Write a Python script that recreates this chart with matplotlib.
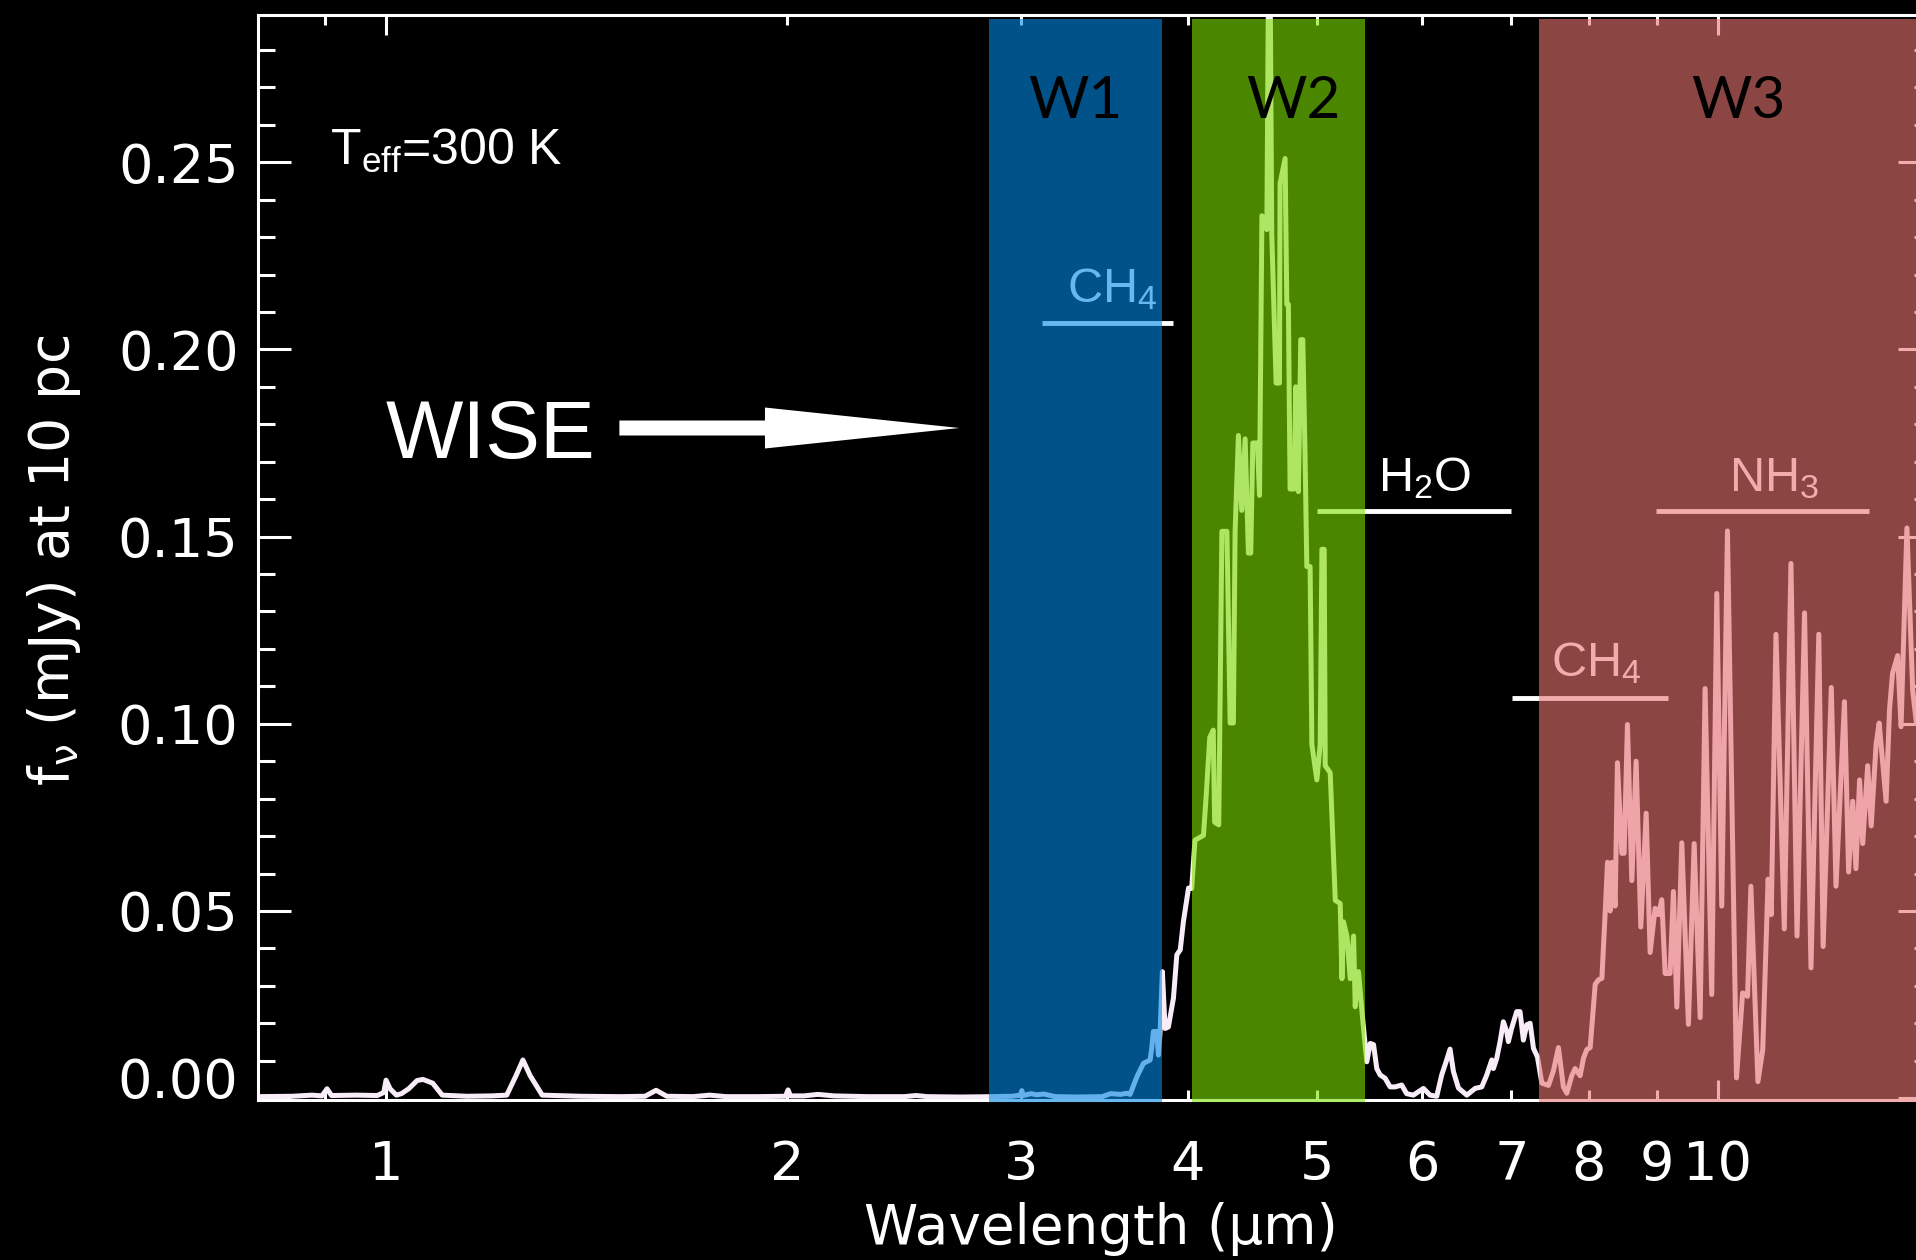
import numpy as np
import matplotlib
matplotlib.use('Agg')
import matplotlib.pyplot as plt
from matplotlib.ticker import MultipleLocator

plt.rcParams['font.family'] = 'DejaVu Sans'
plt.rcParams['mathtext.default'] = 'regular'

# model spectrum, Teff = 300 K
wave_um = [0.80, 0.85, 0.88, 0.895, 0.903, 0.91, 0.95, 0.985, 0.996, 1.0,
           1.007, 1.018, 1.027, 1.040, 1.055, 1.066, 1.084, 1.102, 1.15, 1.20,
           1.232, 1.252, 1.267, 1.283, 1.31, 1.40, 1.50, 1.565, 1.595, 1.625,
           1.70, 1.75, 1.80, 1.90, 1.995, 2.004, 2.012, 2.06, 2.11, 2.17,
           2.30, 2.45, 2.50, 2.55, 2.70, 2.85, 2.95, 2.995, 3.002, 3.01,
           3.05, 3.08, 3.12, 3.18, 3.30, 3.45, 3.50, 3.56, 3.60, 3.62,
           3.663, 3.705, 3.748, 3.758, 3.769, 3.79, 3.802, 3.813, 3.828, 3.846,
           3.868, 3.902, 3.925, 3.948, 3.970, 4.005, 4.027, 4.05, 4.11, 4.13,
           4.155, 4.18, 4.19, 4.22, 4.243, 4.280, 4.304, 4.328, 4.341, 4.366,
           4.391, 4.417, 4.442, 4.46, 4.476, 4.512, 4.528, 4.547, 4.586, 4.599,
           4.612, 4.625, 4.660, 4.687, 4.692, 4.733, 4.747, 4.760, 4.774, 4.807,
           4.821, 4.843, 4.863, 4.880, 4.899, 4.914, 4.942, 4.957, 5.000, 5.029,
           5.044, 5.064, 5.073, 5.117, 5.132, 5.162, 5.206, 5.222, 5.236, 5.267,
           5.297, 5.328, 5.343, 5.373, 5.414, 5.451, 5.483, 5.515, 5.546, 5.578,
           5.627, 5.675, 5.724, 5.790, 5.840, 5.908, 6.012, 6.081, 6.152, 6.205,
           6.252, 6.295, 6.332, 6.387, 6.480, 6.574, 6.650, 6.708, 6.766, 6.785,
           6.824, 6.864, 6.903, 6.943, 6.963, 7.003, 7.064, 7.105, 7.146, 7.188,
           7.230, 7.272, 7.322, 7.378, 7.463, 7.527, 7.593, 7.658, 7.703, 7.770,
           7.815, 7.883, 7.929, 7.975, 8.021, 8.091, 8.137, 8.185, 8.233, 8.265,
           8.303, 8.328, 8.375, 8.408, 8.472, 8.506, 8.555, 8.620, 8.684, 8.755,
           8.836, 8.897, 8.974, 9.026, 9.078, 9.131, 9.210, 9.263, 9.317, 9.398,
           9.506, 9.601, 9.701, 9.784, 9.897, 9.984, 10.07, 10.17, 10.33, 10.44,
           10.53, 10.59, 10.72, 10.81, 10.91, 10.97, 11.06, 11.22, 11.35, 11.47,
           11.62, 11.75, 11.91, 12.00, 12.17, 12.27, 12.45, 12.54, 12.63, 12.70,
           12.78, 12.85, 12.96, 13.04, 13.15, 13.22, 13.38, 13.46, 13.53, 13.65,
           13.73, 13.87, 14.01, 14.10]
flux_mjy = [0.0004, 0.0005, 0.0008, 0.0006, 0.0025, 0.0007, 0.0008, 0.0007, 0.0015, 0.0048,
            0.0025, 0.0008, 0.0012, 0.0025, 0.0047, 0.0050, 0.0040, 0.0008, 0.0005, 0.0006,
            0.0008, 0.0060, 0.0102, 0.0060, 0.0008, 0.0005, 0.0004, 0.0005, 0.0021, 0.0005,
            0.0004, 0.0008, 0.0004, 0.0004, 0.0005, 0.0022, 0.0006, 0.0006, 0.0010, 0.0006,
            0.0004, 0.0004, 0.0007, 0.0004, 0.0003, 0.0004, 0.0005, 0.0008, 0.0020, 0.0007,
            0.0012, 0.0009, 0.0011, 0.0004, 0.0003, 0.0004, 0.0012, 0.0010, 0.0013, 0.0010,
            0.0057, 0.0093, 0.0102, 0.0133, 0.0178, 0.0178, 0.0115, 0.0178, 0.0338, 0.0186,
            0.0190, 0.0267, 0.0383, 0.0396, 0.0472, 0.0561, 0.0560, 0.0689, 0.0702, 0.0812,
            0.0964, 0.0983, 0.0737, 0.0730, 0.1514, 0.1514, 0.1002, 0.1002, 0.1514, 0.1770,
            0.1570, 0.1761, 0.1456, 0.1456, 0.1750, 0.1750, 0.1610, 0.2357, 0.2320, 0.3000,
            0.3000, 0.2310, 0.1910, 0.1910, 0.2443, 0.2510, 0.2120, 0.2120, 0.1627, 0.1627,
            0.1900, 0.1620, 0.2026, 0.2026, 0.1720, 0.1420, 0.1420, 0.0945, 0.0850, 0.0945,
            0.1466, 0.1466, 0.0888, 0.0869, 0.0756, 0.0528, 0.0520, 0.0319, 0.0471, 0.0433,
            0.0319, 0.0433, 0.0244, 0.0338, 0.0206, 0.0097, 0.0146, 0.0143, 0.0079, 0.0062,
            0.0053, 0.0030, 0.0030, 0.0035, 0.0012, 0.0008, 0.0026, 0.0008, 0.0005, 0.0062,
            0.0097, 0.0131, 0.0071, 0.0027, 0.0008, 0.0026, 0.0030, 0.0062, 0.0102, 0.0079,
            0.0106, 0.0151, 0.0204, 0.0178, 0.0151, 0.0187, 0.0231, 0.0231, 0.0155, 0.0196,
            0.0200, 0.0133, 0.0110, 0.0040, 0.0034, 0.0073, 0.0135, 0.0030, 0.0013, 0.0060,
            0.0079, 0.0060, 0.0107, 0.0130, 0.0135, 0.0304, 0.0316, 0.0320, 0.0500, 0.0630,
            0.0500, 0.0630, 0.0513, 0.0896, 0.0654, 0.0654, 0.0998, 0.0581, 0.0900, 0.0457,
            0.0761, 0.0389, 0.0507, 0.0490, 0.0530, 0.0333, 0.0333, 0.0552, 0.0243, 0.0682,
            0.0197, 0.0680, 0.0215, 0.1094, 0.0277, 0.1348, 0.0513, 0.1515, 0.0054, 0.0281,
            0.0272, 0.0566, 0.0044, 0.0130, 0.0585, 0.0490, 0.1239, 0.0452, 0.1428, 0.0433,
            0.1296, 0.0348, 0.1239, 0.0405, 0.1097, 0.0566, 0.1059, 0.0604, 0.0793, 0.0613,
            0.0850, 0.0680, 0.0888, 0.0727, 0.0945, 0.1002, 0.0793, 0.1040, 0.1135, 0.1182,
            0.0992, 0.1523, 0.1088, 0.1002]

# WISE bands
band_names = ['W1', 'W2', 'W3']
band_lo = [2.835, 4.027, 7.336]
band_hi = [3.826, 5.434, 14.46]
band_colors = ['#0089e6', '#7de100', '#e97573']
band_label_x = [3.29, 4.80, 10.36]

# absorption features
mol_names = ['CH$_4$', 'H$_2$O', 'CH$_4$', 'NH$_3$']
mol_lo = [3.111, 5.00, 7.01, 8.99]
mol_hi = [3.90, 7.00, 9.18, 12.98]
mol_y = [0.2070, 0.1569, 0.1069, 0.1569]
mol_text_x = [3.246, 5.56, 7.50, 10.2]
mol_text_y = [0.2127, 0.1621, 0.1126, 0.1621]

x_major = [1, 10]
x_minor = [0.9, 2, 3, 4, 5, 6, 7, 8, 9]
y_ticks = [0.00, 0.05, 0.10, 0.15, 0.20, 0.25]

fig = plt.figure(figsize=(19.16, 12.6), dpi=100, facecolor='black')
ax = fig.add_axes([0.13466, 0.12698, 0.87317, 0.86135])
ax.set_facecolor('black')
ax.set_xscale('log')
ax.set_xlim(0.8014, 14.46)
ax.set_ylim(-0.0005, 0.2894)

ax.plot(wave_um, flux_mjy, color='#f8ecf8', lw=3.6, zorder=2)

for name, lo, hi, y, tx, ty in zip(mol_names, mol_lo, mol_hi, mol_y, mol_text_x, mol_text_y):
    ax.plot([lo, hi], [y, y], color='white', lw=3.5, solid_capstyle='butt', zorder=2)
    ax.text(tx, ty, name, color='white', fontsize=35, family='Liberation Sans',
            ha='left', va='baseline', zorder=2)

# translucent bands on top of everything white, so the line takes their tint
for lo, hi, c in zip(band_lo, band_hi, band_colors):
    ax.axvspan(lo, hi, ymin=-0.0016, ymax=0.996, color=c, alpha=0.6, lw=0,
               zorder=3, clip_on=False)

for name, x in zip(band_names, band_label_x):
    ax.text(x, 0.2617, name, family='Lato', fontsize=42, color='black',
            ha='center', va='baseline', zorder=4)

ax.text(0.908, 0.2493, 'T$_{eff}$=300 K', fontsize=36, family='Liberation Sans',
        color='white', va='baseline', zorder=4)
ax.text(1.435, 0.171, 'WISE', fontsize=59, family='Liberation Sans',
        color='white', ha='right', va='baseline', zorder=4)
ax.annotate('', xy=(2.695, 0.179), xytext=(1.497, 0.179),
            arrowprops=dict(arrowstyle='simple,head_length=140,head_width=29.5,tail_width=10.8',
                            mutation_scale=1, color='white', lw=0,
                            shrinkA=0, shrinkB=0), zorder=4)

# axes
ax.set_xticks(x_major, [str(v) for v in x_major])
ax.set_xticks(x_minor, [''] + [str(v) for v in x_minor[1:]], minor=True)
ax.set_yticks(y_ticks, ['%.2f' % v for v in y_ticks])
ax.yaxis.set_minor_locator(MultipleLocator(0.01))

ax.tick_params(which='both', direction='in', colors='white', top=True, right=True, width=2.2)
ax.tick_params(axis='x', which='major', length=14.4, pad=28, labelsize=39)
ax.tick_params(axis='x', which='minor', length=7.2, pad=28, labelsize=39)
ax.tick_params(axis='y', which='major', length=23.8, pad=14, labelsize=39)
ax.tick_params(axis='y', which='minor', length=12.2)
ax.yaxis.get_major_ticks()[0].label1.set_verticalalignment('baseline')

for s in ax.spines.values():
    s.set_color('white')
    s.set_linewidth(2.2)

ax.set_xlabel('Wavelength (μm)', fontsize=39.5, color='white')
ax.xaxis.set_label_coords(0.504, -0.094)
ax.set_ylabel('f$_ν$ (mJy) at 10 pc', fontsize=40, color='white')
ax.yaxis.set_label_coords(-0.1046, 0.497)

fig.savefig('out.png', dpi=100, facecolor='black')
